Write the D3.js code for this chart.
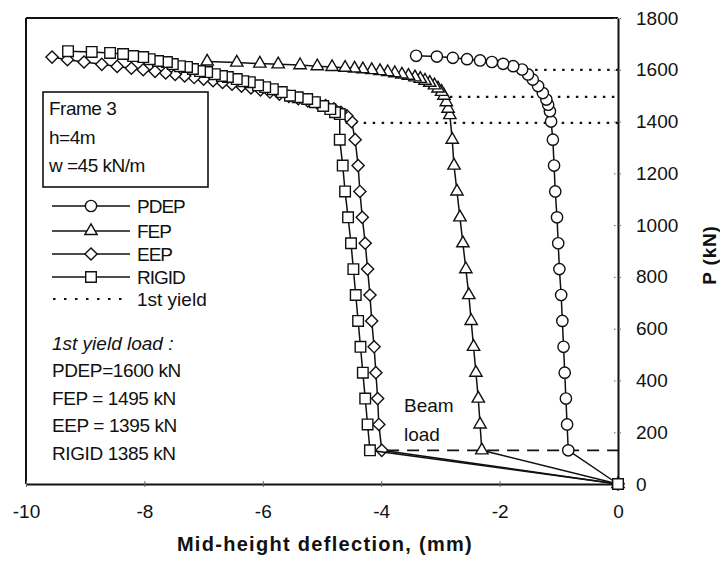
<!DOCTYPE html>
<html>
<head>
<meta charset="utf-8">
<script src="https://cdn.jsdelivr.net/npm/d3@7"></script>
<style>
  body { margin: 0; background: #fff; }
  text { font-family: "Liberation Sans", Arial, Helvetica, sans-serif; fill: #111; }
</style>
</head>
<body>
<svg id="chart" width="720" height="562"></svg>
<script>
// Load–deflection response of Frame 3 (h = 4 m, w = 45 kN/m)
const seriesNames = ["PDEP", "FEP", "EEP", "RIGID"];

const pdepDefl = [0, -0.84, -0.86, -0.88, -0.90, -0.92, -0.94, -0.96, -0.99, -1.01, -1.03, -1.06, -1.08, -1.10,
  -1.13, -1.15, -1.18, -1.21, -1.27, -1.35, -1.44, -1.52, -1.62, -1.77, -1.94, -2.13, -2.33, -2.55, -2.79, -3.06, -3.41];
const pdepLoad = [0, 130, 230, 330, 430, 530, 630, 730, 830, 930, 1030, 1130, 1230, 1330,
  1400, 1440, 1465, 1485, 1510, 1537, 1562, 1582, 1601, 1614, 1623, 1630, 1636, 1641, 1646, 1651, 1654];

const fepDefl = [0, -2.30, -2.33, -2.36, -2.40, -2.44, -2.48, -2.52, -2.57, -2.62, -2.67, -2.72, -2.77, -2.80,
  -2.84, -2.87, -2.90, -2.94, -2.98, -3.04, -3.10, -3.18, -3.26, -3.34, -3.43, -3.54, -3.65, -3.77, -3.89,
  -4.02, -4.16, -4.31, -4.45, -4.61, -4.83, -5.08, -5.37, -5.74, -6.05, -6.44, -6.94];
const fepLoad = [0, 130, 230, 330, 430, 530, 630, 730, 830, 930, 1030, 1130, 1230, 1330,
  1425, 1450, 1475, 1500, 1515, 1528, 1540, 1550, 1558, 1565, 1571, 1577, 1582, 1587, 1591,
  1595, 1599, 1602, 1605, 1608, 1611, 1614, 1618, 1621, 1624, 1628, 1632];

const eepDefl = [0, -3.99, -4.04, -4.06, -4.09, -4.12, -4.16, -4.19, -4.23, -4.27, -4.32, -4.36, -4.39, -4.44,
  -4.50, -4.58, -4.68, -4.80, -4.94, -5.08, -5.24, -5.40, -5.56, -5.72, -5.88, -6.04, -6.20, -6.36, -6.52,
  -6.68, -6.84, -7.00, -7.16, -7.32, -7.48, -7.64, -7.82, -8.02, -8.22, -8.46, -8.72, -9.02, -9.30, -9.56];
const eepLoad = [0, 130, 230, 330, 430, 530, 630, 730, 830, 930, 1030, 1130, 1230, 1330,
  1400, 1422, 1436, 1449, 1462, 1472, 1480, 1488, 1497, 1506, 1514, 1522, 1530, 1537, 1544,
  1551, 1558, 1564, 1570, 1576, 1582, 1588, 1594, 1600, 1606, 1613, 1621, 1630, 1639, 1649];

const rigidDefl = [0, -4.19, -4.23, -4.27, -4.31, -4.35, -4.39, -4.43, -4.47, -4.51, -4.56, -4.61, -4.65, -4.70,
  -4.70, -4.78, -4.86, -4.98, -5.12, -5.25, -5.41, -5.54, -5.68, -5.83, -5.96, -6.08, -6.22, -6.33, -6.44,
  -6.59, -6.69, -6.81, -6.94, -7.06, -7.18, -7.28, -7.40, -7.52, -7.62, -7.77, -7.91, -8.02, -8.19, -8.36,
  -8.58, -8.89, -9.29];
const rigidLoad = [0, 130, 230, 330, 430, 530, 630, 730, 830, 930, 1030, 1130, 1230, 1330,
  1429, 1436, 1448, 1460, 1475, 1487, 1494, 1500, 1514, 1525, 1533, 1540, 1552, 1556, 1564,
  1572, 1576, 1583, 1591, 1595, 1603, 1611, 1614, 1622, 1630, 1634, 1641, 1649, 1653, 1661,
  1665, 1669, 1672];

// first-yield loads (kN) and the deflection where each dotted marker line begins
const yieldLoad = [1600, 1495, 1395, 1385];
const yieldLineLoad = [1600, 1495, 1395];
const yieldLineStart = [-1.40, -2.84, -4.60];

// beam load level
const beamLoad = 130;
const beamLineStart = -3.9;

const xTicks = [-10, -8, -6, -4, -2, 0];
const yTicks = [0, 200, 400, 600, 800, 1000, 1200, 1400, 1600, 1800];

const frameInfo = ["Frame 3", "h=4m", "w =45 kN/m"];

// ---------------------------------------------------------------
const svg = d3.select("#chart");
const x = d3.scaleLinear().domain([-10, 0]).range([26, 618]);
const y = d3.scaleLinear().domain([0, 1800]).range([484, 18]);

const FS = 19;

// plot frame (top and left edges)
svg.append("line").attr("x1", x(-10)).attr("x2", x(0)).attr("y1", y(1800)).attr("y2", y(1800))
  .attr("stroke", "#111").attr("stroke-width", 2);
svg.append("line").attr("x1", x(-10)).attr("x2", x(-10)).attr("y1", y(1800)).attr("y2", y(0))
  .attr("stroke", "#111").attr("stroke-width", 2);

// x axis
const xAxis = svg.append("g").attr("transform", `translate(0,${y(0)})`)
  .call(d3.axisBottom(x).tickValues(xTicks).tickSizeInner(3).tickSizeOuter(0).tickPadding(18)
    .tickFormat(d => String(d)));
xAxis.select(".domain").attr("stroke", "#111").attr("stroke-width", 2);
xAxis.selectAll(".tick line").attr("y1", -3).attr("stroke", "#666").attr("stroke-width", 1);
xAxis.selectAll(".tick text").attr("font-size", FS).attr("font-family", "Liberation Sans, Arial, sans-serif").attr("fill", "#111");

// y axis on the right
const yAxis = svg.append("g").attr("transform", `translate(${x(0)},0)`)
  .call(d3.axisRight(y).tickValues(yTicks).tickSizeInner(3).tickSizeOuter(0).tickPadding(15)
    .tickFormat(d => String(d)));
yAxis.select(".domain").attr("stroke", "#111").attr("stroke-width", 2);
yAxis.selectAll(".tick line").attr("x1", -4).attr("stroke", "#666").attr("stroke-width", 1)
  .attr("stroke-dasharray", "1.5,1.5");
yAxis.selectAll(".tick text").attr("font-size", FS).attr("font-family", "Liberation Sans, Arial, sans-serif").attr("fill", "#111");

// axis titles
svg.append("text").attr("x", 325).attr("y", 551).attr("text-anchor", "middle")
  .attr("font-size", 20).attr("font-weight", "bold").attr("letter-spacing", 1.3)
  .text("Mid-height deflection, (mm)");
svg.append("text").attr("transform", "translate(709,255) rotate(-90)")
  .attr("text-anchor", "middle").attr("dominant-baseline", "central")
  .attr("font-size", 19).attr("font-weight", "bold").attr("letter-spacing", 0.8).text("P (kN)");

// first-yield dotted lines
yieldLineLoad.forEach((p, i) => {
  svg.append("line").attr("x1", x(yieldLineStart[i])).attr("x2", x(0))
    .attr("y1", y(p)).attr("y2", y(p))
    .attr("stroke", "#111").attr("stroke-width", 2.2)
    .attr("stroke-dasharray", "2.5,6.5");
});

// beam load dashed line
svg.append("line").attr("x1", x(beamLineStart)).attr("x2", x(0))
  .attr("y1", y(beamLoad)).attr("y2", y(beamLoad))
  .attr("stroke", "#111").attr("stroke-width", 1.8).attr("stroke-dasharray", "12,8");

// marker shapes
const shapes = {
  PDEP: d3.symbol().type(d3.symbolCircle).size(100),
  FEP: d3.symbol().type(d3.symbolTriangle).size(66),
  EEP: d3.symbol().type(d3.symbolSquare).size(74),
  RIGID: d3.symbol().type(d3.symbolSquare).size(112)
};
const rotation = { PDEP: 0, FEP: 0, EEP: 45, RIGID: 0 };

const seriesData = [
  [pdepDefl, pdepLoad],
  [fepDefl, fepLoad],
  [eepDefl, eepLoad],
  [rigidDefl, rigidLoad]
];

const line = d3.line().x(d => x(d[0])).y(d => y(d[1]));

seriesData.forEach(([defl, load], s) => {
  const name = seriesNames[s];
  const pts = defl.map((d, i) => [d, load[i]]);
  const g = svg.append("g");
  g.append("path").attr("d", line(pts)).attr("fill", "none")
    .attr("stroke", "#111").attr("stroke-width", 1.5);
  g.selectAll("path.m").data(pts).join("path").attr("class", "m")
    .attr("d", shapes[name]())
    .attr("transform", d => `translate(${x(d[0])},${y(d[1])}) rotate(${rotation[name]})`)
    .attr("fill", "#fff").attr("stroke", "#111").attr("stroke-width", 1.4);
});

// info box
svg.append("rect").attr("x", 43).attr("y", 92).attr("width", 165).attr("height", 95)
  .attr("fill", "#fff").attr("stroke", "#111").attr("stroke-width", 1.6);
frameInfo.forEach((t, i) => {
  svg.append("text").attr("x", 49).attr("y", 115 + i * 28.5).attr("font-size", FS)
    .attr("letter-spacing", -0.5).text(t);
});

// legend
const legRows = [206, 231, 254, 277];
seriesNames.forEach((name, i) => {
  const ly = legRows[i];
  svg.append("line").attr("x1", 52).attr("x2", 130).attr("y1", ly).attr("y2", ly)
    .attr("stroke", "#111").attr("stroke-width", 1.5);
  svg.append("path").attr("d", shapes[name]())
    .attr("transform", `translate(91,${ly}) rotate(${rotation[name]})`)
    .attr("fill", "#fff").attr("stroke", "#111").attr("stroke-width", 1.4);
  svg.append("text").attr("x", 137).attr("y", ly + 7).attr("font-size", FS)
    .attr("letter-spacing", -1).text(name);
});
svg.append("line").attr("x1", 53).attr("x2", 130).attr("y1", 299).attr("y2", 299)
  .attr("stroke", "#111").attr("stroke-width", 2.2).attr("stroke-dasharray", "2.5,8.5");
svg.append("text").attr("x", 137).attr("y", 306).attr("font-size", FS).text("1st yield");

// first-yield load notes
svg.append("text").attr("x", 52).attr("y", 350).attr("font-size", FS)
  .attr("font-style", "italic").text("1st yield load :");
const yieldText = [
  `PDEP=${yieldLoad[0]} kN`,
  `FEP = ${yieldLoad[1]} kN`,
  `EEP = ${yieldLoad[2]} kN`,
  `RIGID ${yieldLoad[3]} kN`
];
yieldText.forEach((t, i) => {
  svg.append("text").attr("x", 52).attr("y", 377 + i * 27.5).attr("font-size", FS)
    .attr("letter-spacing", -0.4).text(t);
});

// beam load label
svg.append("text").attr("x", 404).attr("y", 412).attr("font-size", FS).text("Beam");
svg.append("text").attr("x", 404).attr("y", 441).attr("font-size", FS).text("load");
</script>
</body>
</html>
